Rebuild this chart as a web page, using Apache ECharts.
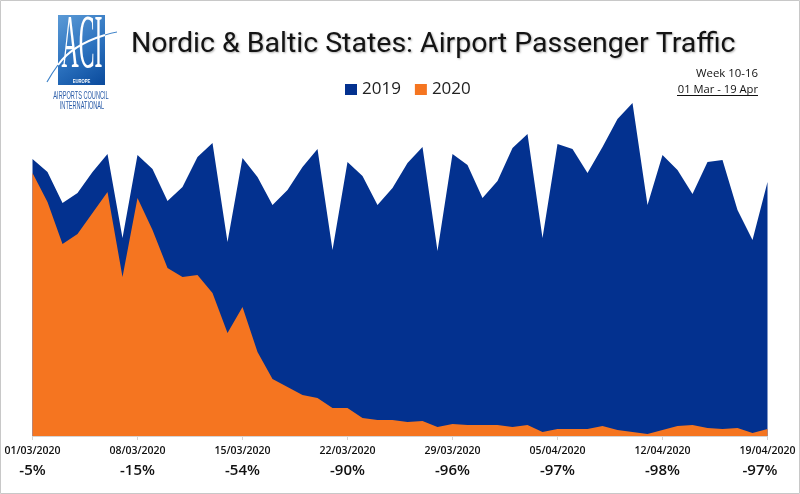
<!DOCTYPE html>
<html>
<head>
<meta charset="utf-8">
<style>html,body{margin:0;padding:0;background:#fff}#chart{width:800px;height:494px}</style>
<script src="https://cdn.jsdelivr.net/npm/echarts@6/dist/echarts.min.js"></script>
</head>
<body>
<div id="chart"></div>
<script>
// values (no axis in the source, so units are relative)
var days = [
    '01/03/2020','02/03/2020','03/03/2020','04/03/2020','05/03/2020','06/03/2020','07/03/2020',
    '08/03/2020','09/03/2020','10/03/2020','11/03/2020','12/03/2020','13/03/2020','14/03/2020',
    '15/03/2020','16/03/2020','17/03/2020','18/03/2020','19/03/2020','20/03/2020','21/03/2020',
    '22/03/2020','23/03/2020','24/03/2020','25/03/2020','26/03/2020','27/03/2020','28/03/2020',
    '29/03/2020','30/03/2020','31/03/2020','01/04/2020','02/04/2020','03/04/2020','04/04/2020',
    '05/04/2020','06/04/2020','07/04/2020','08/04/2020','09/04/2020','10/04/2020','11/04/2020',
    '12/04/2020','13/04/2020','14/04/2020','15/04/2020','16/04/2020','17/04/2020','18/04/2020',
    '19/04/2020'
];
var traffic2019 = [
    277,264,233,243,264,282,198,281,267,235,249,279,293,194,
    278,259,231,246,269,287,186,274,260,231,248,273,289,185,
    282,271,238,255,288,302,198,292,287,263,289,317,333,231,
    281,266,242,274,276,226,196,254
];
var traffic2020 = [
    263,234,192,202,223,244,159,238,206,168,159,161,143,103,
    129,84,57,49,41,38,28,28,18,16,16,14,15,9,
    12,11,11,11,9,11,4,7,7,7,10,6,4,2,
    6,10,11,8,7,8,3,7
];
var weekChange = ['-5%','-15%','-54%','-90%','-96%','-97%','-98%','-97%'];

var chart = echarts.init(document.getElementById('chart'));
var darkBlue = '#03318f', orange = '#f57520';

chart.setOption({
    animation: false,
    backgroundColor: '#fff',
    title: {
        text: 'Nordic & Baltic States: Airport Passenger Traffic',
        left: 126,
        top: 25,
        textStyle: {
            fontFamily: 'Roboto',
            fontWeight: 'normal',
            fontSize: 28.5,
            color: '#141414',
            textShadowColor: 'rgba(0,0,0,0.3)',
            textShadowBlur: 2,
            textShadowOffsetX: 1,
            textShadowOffsetY: 1
        }
    },
    legend: {
        data: ['2019', '2020'],
        left: 340,
        top: 76,
        itemWidth: 12,
        itemHeight: 11,
        itemGap: 14,
        icon: 'rect',
        textStyle: {fontFamily: 'Open Sans', fontSize: 17, color: '#222'}
    },
    grid: {left: 32.5, right: 32.5, top: 86, bottom: 58},
    xAxis: {
        type: 'category',
        boundaryGap: false,
        data: days,
        axisLine: {lineStyle: {color: '#d4d4d4'}},
        axisTick: {interval: 6, length: 4, lineStyle: {color: '#d4d4d4'}},
        axisLabel: {
            interval: 6,
            margin: 7,
            showMaxLabel: true,
            hideOverlap: false,
            formatter: function(value, index) {
                var week = index / 7;
                // last percent sits a little left of its tick in the source
                var style = week === 7 ? 'pl' : 'p';
                return '{d|' + value + '}\n{' + style + '|' + weekChange[week] + '}';
            },
            rich: {
                d: {fontFamily: 'Open Sans', fontSize: 10.5, fontWeight: 600, color: '#111', lineHeight: 17},
                p: {fontFamily: 'Open Sans', fontSize: 15, fontWeight: 600, color: '#111', lineHeight: 21},
                pl: {fontFamily: 'Open Sans', fontSize: 15, fontWeight: 600, color: '#111', lineHeight: 21, padding: [0, 15, 0, 0]}
            }
        }
    },
    yAxis: {type: 'value', show: false, min: 0, max: 350},
    series: [
        {
            name: '2019',
            type: 'line',
            data: traffic2019,
            symbol: 'none',
            itemStyle: {color: darkBlue},
            lineStyle: {width: 0},
            areaStyle: {color: darkBlue, opacity: 1}
        },
        {
            name: '2020',
            type: 'line',
            data: traffic2020,
            symbol: 'none',
            itemStyle: {color: orange},
            lineStyle: {width: 0},
            areaStyle: {color: orange, opacity: 1}
        }
    ],
    graphic: [
        // picture frame
        {type: 'rect', shape: {x: 0.5, y: 0.5, width: 799, height: 493}, style: {fill: 'none', stroke: '#c8c8c8', lineWidth: 1}},
        // week note
        {type: 'text', style: {text: 'Week 10-16', x: 758, y: 74, align: 'right', verticalAlign: 'middle', fontFamily: 'Open Sans', fontSize: 11.4, fill: '#111'}},
        {type: 'text', style: {text: '01 Mar - 19 Apr', x: 758, y: 90, align: 'right', verticalAlign: 'middle', fontFamily: 'Open Sans', fontSize: 11.2, fill: '#111'}},
        {type: 'line', shape: {x1: 677, y1: 95.5, x2: 758, y2: 95.5}, style: {stroke: '#111', lineWidth: 1}},
        // ACI logo
        {
            type: 'rect',
            shape: {x: 58, y: 15, width: 47, height: 70},
            style: {fill: new echarts.graphic.LinearGradient(0, 0, 1, 1, [
                {offset: 0, color: '#5b9ad6'},
                {offset: 0.55, color: '#2a70bd'},
                {offset: 1, color: '#0a4a9c'}
            ])}
        },
        {type: 'text', x: 82, y: 47, scaleX: 0.66, scaleY: 2.1, style: {text: 'ACI', x: 0, y: 0, align: 'center', verticalAlign: 'middle', fontFamily: 'Liberation Serif', fontSize: 36, fill: '#fff'}},
        {type: 'bezierCurve', shape: {x1: 47, y1: 82, cpx1: 52, cpy1: 73, x2: 58, y2: 65}, style: {fill: 'none', stroke: '#3f83c9', lineWidth: 1.2}},
        {type: 'bezierCurve', shape: {x1: 58, y1: 65, cpx1: 72, cpy1: 45, x2: 105, y2: 35}, style: {fill: 'none', stroke: '#fff', lineWidth: 2}},
        {type: 'bezierCurve', shape: {x1: 105, y1: 35, cpx1: 111, cpy1: 33, x2: 117, y2: 32}, style: {fill: 'none', stroke: '#3f83c9', lineWidth: 1}},
        {type: 'text', x: 81.5, y: 81.5, scaleX: 0.7, style: {text: 'EUROPE', x: 0, y: 0, align: 'center', verticalAlign: 'middle', fontFamily: 'Liberation Sans', fontWeight: 'bold', fontSize: 6, fill: '#fff'}},
        {type: 'text', x: 81, y: 96, scaleX: 0.56, style: {text: 'AIRPORTS COUNCIL', x: 0, y: 0, align: 'center', verticalAlign: 'middle', fontFamily: 'Liberation Sans', fontSize: 10, fill: '#2a5ca8'}},
        {type: 'text', x: 82, y: 106, scaleX: 0.56, style: {text: 'INTERNATIONAL', x: 0, y: 0, align: 'center', verticalAlign: 'middle', fontFamily: 'Liberation Sans', fontSize: 10, fill: '#2a5ca8'}}
    ]
});
</script>
</body>
</html>
